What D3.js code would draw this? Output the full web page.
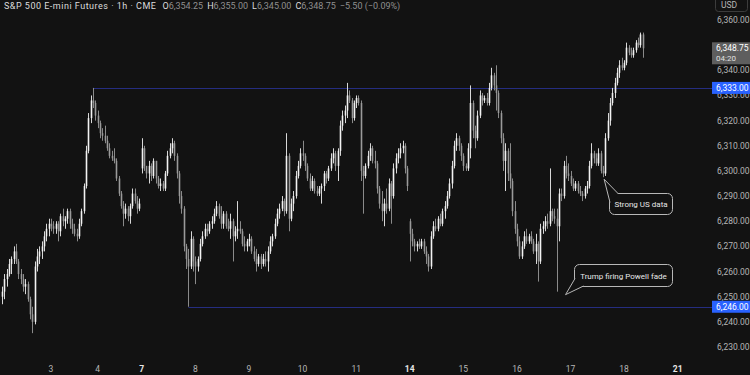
<!DOCTYPE html>
<html><head><meta charset="utf-8">
<script src="https://cdn.jsdelivr.net/npm/d3@7"></script>
<style>
html,body{margin:0;padding:0;background:#121212;}
svg{display:block;}
text{font-family:Roboto,"Liberation Sans",sans-serif;}
</style></head>
<body><svg id="c" width="750" height="375"></svg>
<script>
// ---------- DATA (hourly ES futures bars) ----------
const opens = [
6250,6252,6257,6259,6263,6265,6268,6264,6259,6257,
6254,6255,6249,6243,6240,6262,6266,6268,6270,6274,
6277,6279,6278,6277,6279,6276,6282,6280,6281,6284,
6279,6277,6275,6274,6279,6284,6294,6308,6321,6328,
6327,6322,6319,6315,6314,6312,6309,6306,6305,6304,
6297,6291,6286,6283,6285,6282,6286,6291,6288,6285,
6301,6309,6302,6299,6302,6298,6304,6297,6294,6295,
6293,6299,6306,6309,6311,6306,6299,6290,6285,6270,
6265,6262,6273,6264,6262,6265,6271,6274,6277,6276,
6279,6280,6283,6286,6282,6279,6283,6278,6277,6280,
6274,6276,6277,6276,6271,6270,6272,6273,6268,6265,
6263,6266,6263,6265,6264,6268,6272,6274,6279,6283,
6285,6288,6284,6306,6281,6287,6290,6298,6302,6307,
6306,6302,6297,6293,6296,6292,6291,6293,6294,6299,
6297,6301,6305,6307,6302,6308,6318,6322,6324,6330,
6328,6321,6327,6329,6327,6300,6298,6302,6306,6309,
6304,6303,6293,6287,6284,6287,6285,6295,6290,6301,
6305,6307,6309,6310,6301,6280,6275,6272,6270,6271,
6270,6272,6268,6266,6262,6274,6278,6277,6281,6279,
6284,6286,6290,6295,6302,6310,6313,6310,6306,6302,
6301,6309,6327,6316,6313,6322,6330,6328,6329,6327,
6333,6338,6334,6331,6323,6313,6304,6308,6299,6296,
6284,6277,6272,6266,6270,6274,6272,6274,6272,6268,
6271,6264,6277,6278,6280,6279,6284,6282,6281,6278,
6291,6290,6302,6299,6298,6295,6293,6295,6292,6291,
6290,6293,6294,6302,6307,6305,6303,6307,6300,6299,
6313,6320,6327,6331,6335,6339,6342,6341,6343,6349,
6347,6346,6348,6351,6350,6354.25];
const highs = [
6254,6259,6261,6265,6266,6270,6271,6265,6261,6259,
6257,6256,6250,6246,6264,6269,6270,6272,6276,6279,
6281,6281,6280,6280,6280,6283,6285,6282,6285,6285,
6281,6279,6277,6281,6285,6295,6310,6323,6330,6333,
6328,6324,6320,6317,6318,6314,6311,6308,6309,6305,
6298,6292,6288,6287,6286,6287,6293,6293,6290,6289,
6313,6310,6302,6304,6303,6305,6304,6298,6297,6296,
6300,6308,6311,6313,6312,6307,6300,6292,6286,6271,
6269,6276,6274,6266,6266,6273,6276,6279,6279,6280,
6282,6285,6288,6287,6286,6284,6284,6281,6283,6281,
6278,6288,6280,6277,6274,6273,6275,6274,6270,6269,
6267,6267,6267,6268,6270,6274,6275,6281,6285,6287,
6290,6289,6315,6307,6289,6292,6300,6304,6309,6312,
6307,6303,6299,6298,6297,6294,6294,6295,6300,6300,
6302,6307,6309,6308,6309,6320,6324,6326,6335,6332,
6329,6328,6330,6330,6328,6302,6303,6308,6311,6310,
6308,6304,6294,6292,6289,6293,6297,6296,6303,6307,
6309,6311,6312,6311,6302,6281,6277,6273,6272,6273,
6273,6273,6270,6267,6276,6280,6281,6282,6283,6285,
6288,6292,6297,6304,6312,6315,6314,6311,6307,6303,
6311,6334,6328,6318,6324,6332,6331,6330,6331,6335,
6341,6339,6342,6332,6324,6315,6311,6309,6311,6297,
6288,6279,6274,6272,6276,6277,6275,6276,6273,6275,
6272,6279,6280,6282,6283,6301,6285,6285,6285,6293,
6293,6304,6306,6303,6300,6297,6296,6296,6294,6292,
6294,6296,6304,6311,6308,6307,6309,6308,6302,6315,
6323,6329,6333,6337,6341,6344,6345,6344,6351,6350,
6349,6349,6352,6353,6355,6355];
const lows = [
6247,6249,6254,6258,6259,6263,6263,6257,6255,6252,
6251,6248,6241,6235.5,6239,6260,6263,6265,6268,6272,
6274,6276,6275,6275,6272,6274,6278,6277,6279,6277,
6275,6274,6272,6273,6278,6283,6293,6307,6319,6325,
6320,6317,6313,6312,6311,6308,6305,6304,6303,6296,
6290,6285,6278,6281,6280,6279,6285,6287,6283,6284,
6299,6300,6297,6295,6296,6297,6295,6293,6292,6292,
6292,6298,6305,6307,6304,6297,6287,6283,6268,6261,
6246,6261,6260,6255,6260,6264,6270,6273,6274,6275,
6277,6279,6282,6281,6277,6277,6277,6276,6273,6264,
6272,6273,6275,6270,6268,6268,6270,6267,6264,6260,
6262,6261,6262,6262,6260,6267,6270,6273,6278,6281,
6284,6282,6283,6276,6280,6284,6289,6297,6301,6304,
6300,6296,6292,6292,6291,6290,6290,6287,6292,6295,
6296,6300,6303,6300,6296,6306,6316,6319,6321,6327,
6319,6320,6325,6326,6296,6283,6297,6301,6304,6303,
6301,6291,6285,6280,6278,6283,6284,6279,6289,6299,
6303,6305,6307,6299,6292,6264,6270,6268,6268,6269,
6269,6267,6263,6260,6261,6273,6276,6276,6278,6278,
6281,6285,6289,6293,6301,6308,6308,6304,6300,6300,
6300,6305,6313,6309,6312,6321,6326,6327,6326,6326,
6332,6332,6324,6321,6311,6300,6292,6296,6293,6282,
6275,6270,6265,6265,6269,6271,6271,6271,6267,6263,
6256,6263,6275,6276,6277,6278,6280,6279,6252,6272,
6288,6289,6297,6296,6294,6292,6292,6291,6290,6288,
6289,6291,6293,6301,6303,6302,6302,6299,6297.5,6298,
6312,6318,6326,6329,6334,6337,6340,6340,6342,6346,
6345,6345,6347,6349,6349,6345];
const closes = [
6252,6257,6259,6263,6265,6268,6264,6259,6257,6254,
6255,6249,6243,6240,6262,6266,6268,6270,6274,6277,
6279,6278,6277,6279,6276,6282,6280,6281,6284,6279,
6277,6275,6274,6279,6284,6294,6308,6321,6328,6327,
6322,6319,6315,6314,6312,6309,6306,6305,6304,6297,
6291,6286,6283,6285,6282,6286,6291,6288,6285,6287,
6309,6302,6299,6302,6298,6304,6297,6294,6295,6293,
6299,6306,6309,6311,6306,6299,6290,6285,6270,6265,
6262,6273,6264,6262,6265,6271,6274,6277,6276,6279,
6280,6283,6286,6282,6279,6283,6278,6277,6280,6274,
6276,6277,6276,6271,6270,6272,6273,6268,6265,6263,
6266,6263,6265,6264,6268,6272,6274,6279,6283,6285,
6288,6284,6306,6281,6287,6290,6298,6302,6307,6306,
6302,6297,6293,6296,6292,6291,6293,6294,6299,6297,
6301,6305,6307,6302,6308,6318,6322,6324,6330,6328,
6321,6327,6329,6327,6300,6298,6302,6306,6309,6304,
6303,6293,6287,6284,6287,6285,6295,6290,6301,6305,
6307,6309,6310,6301,6294,6275,6272,6270,6271,6270,
6272,6268,6266,6262,6274,6278,6277,6281,6279,6284,
6286,6290,6295,6302,6310,6313,6310,6306,6302,6301,
6309,6327,6316,6313,6322,6330,6328,6329,6327,6333,
6338,6334,6331,6323,6313,6304,6308,6299,6296,6284,
6277,6272,6266,6270,6274,6272,6274,6272,6268,6271,
6264,6277,6278,6280,6279,6284,6282,6281,6278,6291,
6290,6302,6299,6298,6295,6293,6295,6292,6291,6290,
6293,6294,6302,6307,6305,6303,6307,6300,6299,6313,
6320,6327,6331,6335,6339,6342,6341,6343,6349,6347,
6346,6348,6351,6350,6354.25,6348.75];

const dayLabels = ["3","4","7","8","9","10","11","14","15","16","17","18","21"];
const dayStartBar = [21,41,60,83,106,129,152,175,198,221,244,267,290];
const weekStarts = ["7","14","21"];
const priceTicks = [6360,6340,6330,6320,6310,6300,6290,6280,6270,6260,6250,6240,6230];
const levels = [6333, 6246];
const levelStartBar = [39, 80];
const lastPrice = 6348.75, countdown = "04:20";
const titleMain = "S&P 500 E-mini Futures · 1h · CME";
const ohlcLabels = ["O","H","L","C"];
const ohlcValues = ["6,354.25","6,355.00","6,345.00","6,348.75"];
const changeText = "−5.50 (−0.09%)";
const notes = [
  {text:"Strong US data", bar:258, price:6297.5},
  {text:"Trump firing Powell fade", bar:238, price:6252}
];

// ---------- DRAW ----------
const svg = d3.select("#c");
const W = 750, H = 375, plotR = 712;
const bg = "#121212";
svg.append("rect").attr("width",W).attr("height",H).attr("fill",bg);

const x = d3.scaleLinear().domain([0,290]).range([2, 2+290*2.33]);
const y = d3.scaleLinear().domain([6230,6360]).range([347,20]);
const fmt = d3.format(",.2f");
const n = Math.min(opens.length, highs.length, lows.length, closes.length);

const plot = svg.append("g");
levels.forEach((lv,k)=>{
  plot.append("line").attr("x1",x(levelStartBar[k])).attr("x2",plotR)
    .attr("y1",Math.round(y(lv))+0.5).attr("y2",Math.round(y(lv))+0.5)
    .attr("stroke","#252d80").attr("stroke-width",1);
});

const bars = d3.range(n);
const cg = plot.append("g");
cg.selectAll("line.w").data(bars).join("line")
  .attr("x1",i=>Math.round(x(i))+0.5).attr("x2",i=>Math.round(x(i))+0.5)
  .attr("y1",i=>y(highs[i])).attr("y2",i=>y(lows[i]))
  .attr("stroke",i=>closes[i]>=opens[i]?"#d8d8d8":"#8a8a8a").attr("stroke-width",1);
cg.selectAll("rect.b").data(bars).join("rect")
  .attr("x",i=>Math.round(x(i))-0.3).attr("width",1.6)
  .attr("y",i=>y(Math.max(opens[i],closes[i])))
  .attr("height",i=>Math.max(1,Math.abs(y(opens[i])-y(closes[i]))))
  .attr("fill",i=>closes[i]>=opens[i]?"#f2f2f2":"#9a9a9a");

function callout(t, bx, by, bw, bh, tipX, tipY, side){
  const g = svg.append("g");
  g.append("rect").attr("x",bx).attr("y",by).attr("width",bw).attr("height",bh).attr("rx",5)
   .attr("fill",bg).attr("stroke","#b8b8b8").attr("stroke-width",1);
  let p;
  if(side==="top") p=[[bx+0.5,by+9],[tipX,tipY],[bx+9,by+0.5]];
  else p=[[bx+0.5,by+bh-8],[tipX,tipY],[bx+9,by+bh-0.5]];
  g.append("path").attr("d","M"+p[0]+"L"+p[1]+"L"+p[2]+"Z").attr("fill",bg).attr("stroke","none");
  g.append("path").attr("d","M"+p[0]+"L"+p[1]+"L"+p[2]).attr("fill","none").attr("stroke","#b8b8b8").attr("stroke-width",1);
  g.append("text").attr("x",bx+bw/2).attr("y",by+bh/2+3).attr("text-anchor","middle")
   .attr("fill","#e8e8e8").attr("font-size","8px").text(t);
}
const n0 = notes[0], n1 = notes[1];
callout(n0.text, 609.5, 193.5, 63, 21, x(n0.bar)+1, y(n0.price)+2, "top");
callout(n1.text, 574.5, 264.5, 98, 22, x(n1.bar)+9, y(n1.price)+3, "bottom");

const ax = svg.append("g");
priceTicks.forEach(v=>{
  ax.append("text").attr("x",717).attr("y",y(v)+3).attr("fill","#b6b6b6")
    .attr("font-size","8.5px").text(fmt(v));
});
levels.forEach(lv=>{
  ax.append("rect").attr("x",712).attr("y",y(lv)-6).attr("width",38).attr("height",12).attr("fill","#2962ff");
  ax.append("text").attr("x",716).attr("y",y(lv)+3).attr("fill","#ffffff").attr("font-size","8.5px").text(fmt(lv));
});
const ly = y(lastPrice);
ax.append("rect").attr("x",712).attr("y",ly-6).attr("width",38).attr("height",22).attr("fill","#5e5e5e");
ax.append("text").attr("x",716).attr("y",ly+3).attr("fill","#ffffff").attr("font-size","8.5px").text(fmt(lastPrice));
ax.append("text").attr("x",716).attr("y",ly+13).attr("fill","#e0e0e0").attr("font-size","8px").text(countdown);
ax.append("rect").attr("x",715.5).attr("y",-4.5).attr("width",32).attr("height",16).attr("rx",3)
  .attr("fill","none").attr("stroke","#3c3c3c");
ax.append("text").attr("x",721).attr("y",8).attr("fill","#b6b6b6").attr("font-size","8.5px").text("USD");

dayLabels.forEach((d,k)=>{
  const wk = weekStarts.includes(d);
  svg.append("text").attr("x",x(dayStartBar[k])).attr("y",372).attr("text-anchor","middle")
    .attr("fill",wk?"#e6e6e6":"#b6b6b6").attr("font-size","8.5px")
    .attr("font-weight",wk?"bold":"normal").text(d);
});

// title
const tt = svg.append("text").attr("x",4).attr("y",9).attr("font-size","9px");
tt.append("tspan").attr("fill","#dcdcdc").attr("letter-spacing","0.5px").text(titleMain);
ohlcLabels.forEach((l,k)=>{
  tt.append("tspan").attr("fill","#dcdcdc").attr("letter-spacing","0px").attr("dx", k===0?6:4).text(l);
  tt.append("tspan").attr("fill","#8f8f8f").text(ohlcValues[k]);
});
tt.append("tspan").attr("fill","#8f8f8f").attr("dx",4).text(changeText);
</script></body></html>
